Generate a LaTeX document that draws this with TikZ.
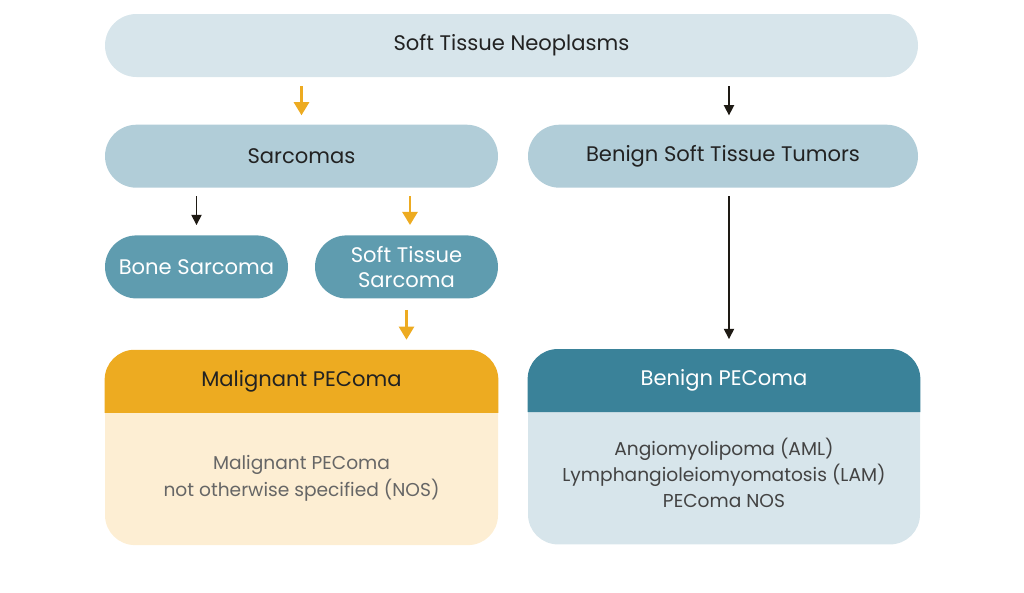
\documentclass[tikz,border=0pt]{standalone}
\usepackage{fontspec}
\setmainfont{Poppins}
\usetikzlibrary{arrows.meta, positioning}

\definecolor{paleblue}{HTML}{D7E5EB}
\definecolor{midblue}{HTML}{B1CDD8}
\definecolor{tealblue}{HTML}{5F9CAF}
\definecolor{deepteal}{HTML}{3A8299}
\definecolor{gold}{HTML}{EDAB21}
\definecolor{cream}{HTML}{FDEED3}
\definecolor{inkdark}{HTML}{222222}
\definecolor{inkgray}{HTML}{666666}
\definecolor{arrowdark}{HTML}{1E1A14}

\begin{document}
\begin{tikzpicture}[
    font=\fontsize{12}{14}\selectfont,
    pill/.style={rectangle, rounded corners=0.63cm, minimum height=1.26cm, inner sep=2pt, align=center, text=inkdark},
    card/.style={rectangle, rounded corners=0.6cm, minimum height=3.9cm, inner sep=0pt},
    bodytext/.style={align=center, font=\fontsize{10.6}{15}\selectfont},
    darrow/.style={-{Triangle[width=5.8pt, length=5.8pt]}, line width=0.85pt, draw=arrowdark},
    oarrow/.style={-{Triangle[width=8.5pt, length=7.5pt]}, line width=1.7pt, draw=gold}
]
\useasboundingbox (0,0) rectangle (20.48,-11.86);

\node[pill, fill=paleblue, minimum width=16.26cm] (top) at (10.23,-0.91) {Soft Tissue Neoplasms};

\node[pill, fill=midblue, minimum width=7.86cm, below=0.94cm of top.south west, anchor=north west] (sarc) {Sarcomas};
\node[pill, fill=midblue, minimum width=7.8cm, below=0.94cm of top.south east, anchor=north east] (benign) {Benign Soft Tissue Tumors};

\node[pill, fill=tealblue, text=white, minimum width=3.66cm, below=0.94cm of sarc.south west, anchor=north west] (bone) {Bone Sarcoma};
\node[pill, fill=tealblue, text=white, minimum width=3.66cm, below=0.94cm of sarc.south east, anchor=north east] (softsarc) {Soft Tissue\\Sarcoma};

% malignant card
\node[card, fill=cream, minimum width=7.86cm, below=1.02cm of softsarc.south east, anchor=north east] (malig) {};
\fill[gold] ([yshift=-1.26cm]malig.north west) [rounded corners=0.6cm] -- (malig.north west) -- (malig.north east) [sharp corners] -- ([yshift=-1.26cm]malig.north east) -- cycle;
\node[text=inkdark] (maligtitle) at ([yshift=-0.63cm]malig.north) {Malignant PEComa};
\node[bodytext, text=inkgray, below=1.02cm of maligtitle] (maligbody) {Malignant PEComa\\not otherwise specified (NOS)};

% benign card
\node[card, fill=paleblue, minimum width=7.84cm, below=3.22cm of benign.south west, anchor=north west] (benpec) {};
\fill[deepteal] ([yshift=-1.26cm]benpec.north west) [rounded corners=0.6cm] -- (benpec.north west) -- (benpec.north east) [sharp corners] -- ([yshift=-1.26cm]benpec.north east) -- cycle;
\node[text=white] (benpectitle) at ([yshift=-0.63cm]benpec.north) {Benign PEComa};
\node[bodytext, text=inkdark!85, below=0.68cm of benpectitle] (benpecbody) {Angiomyolipoma (AML)\\Lymphangioleiomyomatosis (LAM)\\PEComa NOS};

% connectors
\draw[oarrow, shorten <=0.18cm, shorten >=0.18cm] (top.south -| sarc.north) -- (sarc.north);
\draw[darrow, shorten <=0.18cm, shorten >=0.18cm] ([xshift=0.12cm]benign.north |- top.south) -- ([xshift=0.12cm]benign.north);
\draw[darrow, shorten <=0.16cm, shorten >=0.2cm] (sarc.south -| bone.north) -- (bone.north);
\draw[oarrow, shorten <=0.16cm, shorten >=0.2cm] ([xshift=0.07cm]softsarc.north |- sarc.south) -- ([xshift=0.07cm]softsarc.north);
\draw[oarrow, shorten <=0.22cm, shorten >=0.2cm] (softsarc.south) -- (softsarc.south |- malig.north);
\draw[darrow, shorten <=0.16cm, shorten >=0.2cm] ([xshift=0.12cm]benign.south) -- ([xshift=0.12cm]benign.south |- benpec.north);

\end{tikzpicture}
\end{document}
